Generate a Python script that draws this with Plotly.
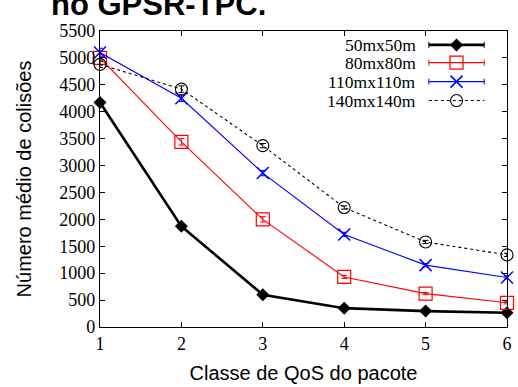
import plotly.graph_objects as go

classes = [1, 2, 3, 4, 5, 6]
s50 = [4170, 1870, 600, 350, 295, 265]
s80 = [5000, 3440, 2000, 930, 620, 450]
s110 = [5100, 4250, 2860, 1720, 1150, 920]
s140 = [4880, 4420, 3370, 2220, 1580, 1340]
err50 = [60, 40, 30, 20, 20, 20]
err80 = [60, 60, 50, 30, 20, 20]
err110 = [80, 60, 50, 40, 30, 30]
err140 = [60, 60, 40, 30, 30, 30]
names = ["50mx50m", "80mx80m", "110mx110m", "140mx140m"]

series = [
    (s50, err50, dict(color="black", width=2.6), dict(symbol="diamond", size=10, color="black")),
    (s80, err80, dict(color="red", width=1.1), dict(symbol="square-open", size=13, color="red", line=dict(width=1.2))),
    (s110, err110, dict(color="blue", width=1.1), dict(symbol="x-thin-open", size=12, color="blue", line=dict(width=1.5, color="blue"))),
    (s140, err140, dict(color="black", width=1.1, dash="dot"), dict(symbol="circle-open", size=12, color="black", line=dict(width=1.1))),
]

fig = go.Figure()
for (ys, es, ln, mk), nm in zip(series, names):
    fig.add_trace(go.Scatter(
        x=classes, y=ys, name=nm, mode="lines+markers", line=ln, marker=mk,
        error_y=dict(type="data", array=es, color=ln["color"], thickness=1, width=3),
        showlegend=False, cliponaxis=False))

# manual gnuplot-style legend
leg_rows = [0.953, 0.893, 0.829, 0.765]
lx0, lx1, lxm, ltext = 0.808, 0.944, 0.876, 0.779
for (ys, es, ln, mk), nm, ly in zip(series, names, leg_rows):
    fig.add_shape(type="line", xref="paper", yref="paper", x0=lx0, x1=lx1, y0=ly, y1=ly,
                  line=dict(color=ln["color"], width=ln["width"] if ln.get("dash") is None else 1.1,
                            dash=ln.get("dash", "solid")))
    if ln.get("dash") is None:
        for xx in (lx0, lx1):
            fig.add_shape(type="line", xref="paper", yref="paper", x0=xx, x1=xx, y0=ly - 0.01, y1=ly + 0.01,
                          line=dict(color=ln["color"], width=1))
    fig.add_trace(go.Scatter(x=[lxm], y=[ly], xaxis="x2", yaxis="y2", mode="markers",
                             marker=mk, showlegend=False, hoverinfo="skip"))
    fig.add_annotation(text=nm, xref="paper", yref="paper", x=ltext, y=ly, xanchor="right",
                       yanchor="middle", showarrow=False, borderpad=0,
                       font=dict(family="Liberation Serif", size=17.5, color="black"))

fig.add_annotation(text="<b>no GPSR-TPC.</b>", xref="paper", yref="paper", x=-0.125, y=1.025,
                   xanchor="left", yanchor="bottom", showarrow=False,
                   font=dict(family="Liberation Sans", size=31, color="black"))

axis_common = dict(showline=True, linecolor="black", linewidth=1.3, mirror="ticks", ticks="inside",
                   ticklen=5, tickcolor="black", showgrid=False, zeroline=False,
                   tickfont=dict(family="Liberation Serif", size=18, color="black"))
fig.update_layout(
    width=518, height=387, margin=dict(l=100, r=6, t=31, b=58),
    plot_bgcolor="white", paper_bgcolor="white",
    xaxis=dict(range=[1, 6], tickvals=classes, title=dict(text="Classe de QoS do pacote", standoff=13,
               font=dict(family="Liberation Sans", size=20, color="black")), **axis_common),
    yaxis=dict(range=[0, 5500], dtick=500, title=dict(text="Número médio de colisões", standoff=22,
               font=dict(family="Liberation Sans", size=20, color="black")), **axis_common),
    xaxis2=dict(overlaying="x", range=[0, 1], visible=False),
    yaxis2=dict(overlaying="y", range=[0, 1], visible=False),
)
fig.write_html("out.html")
